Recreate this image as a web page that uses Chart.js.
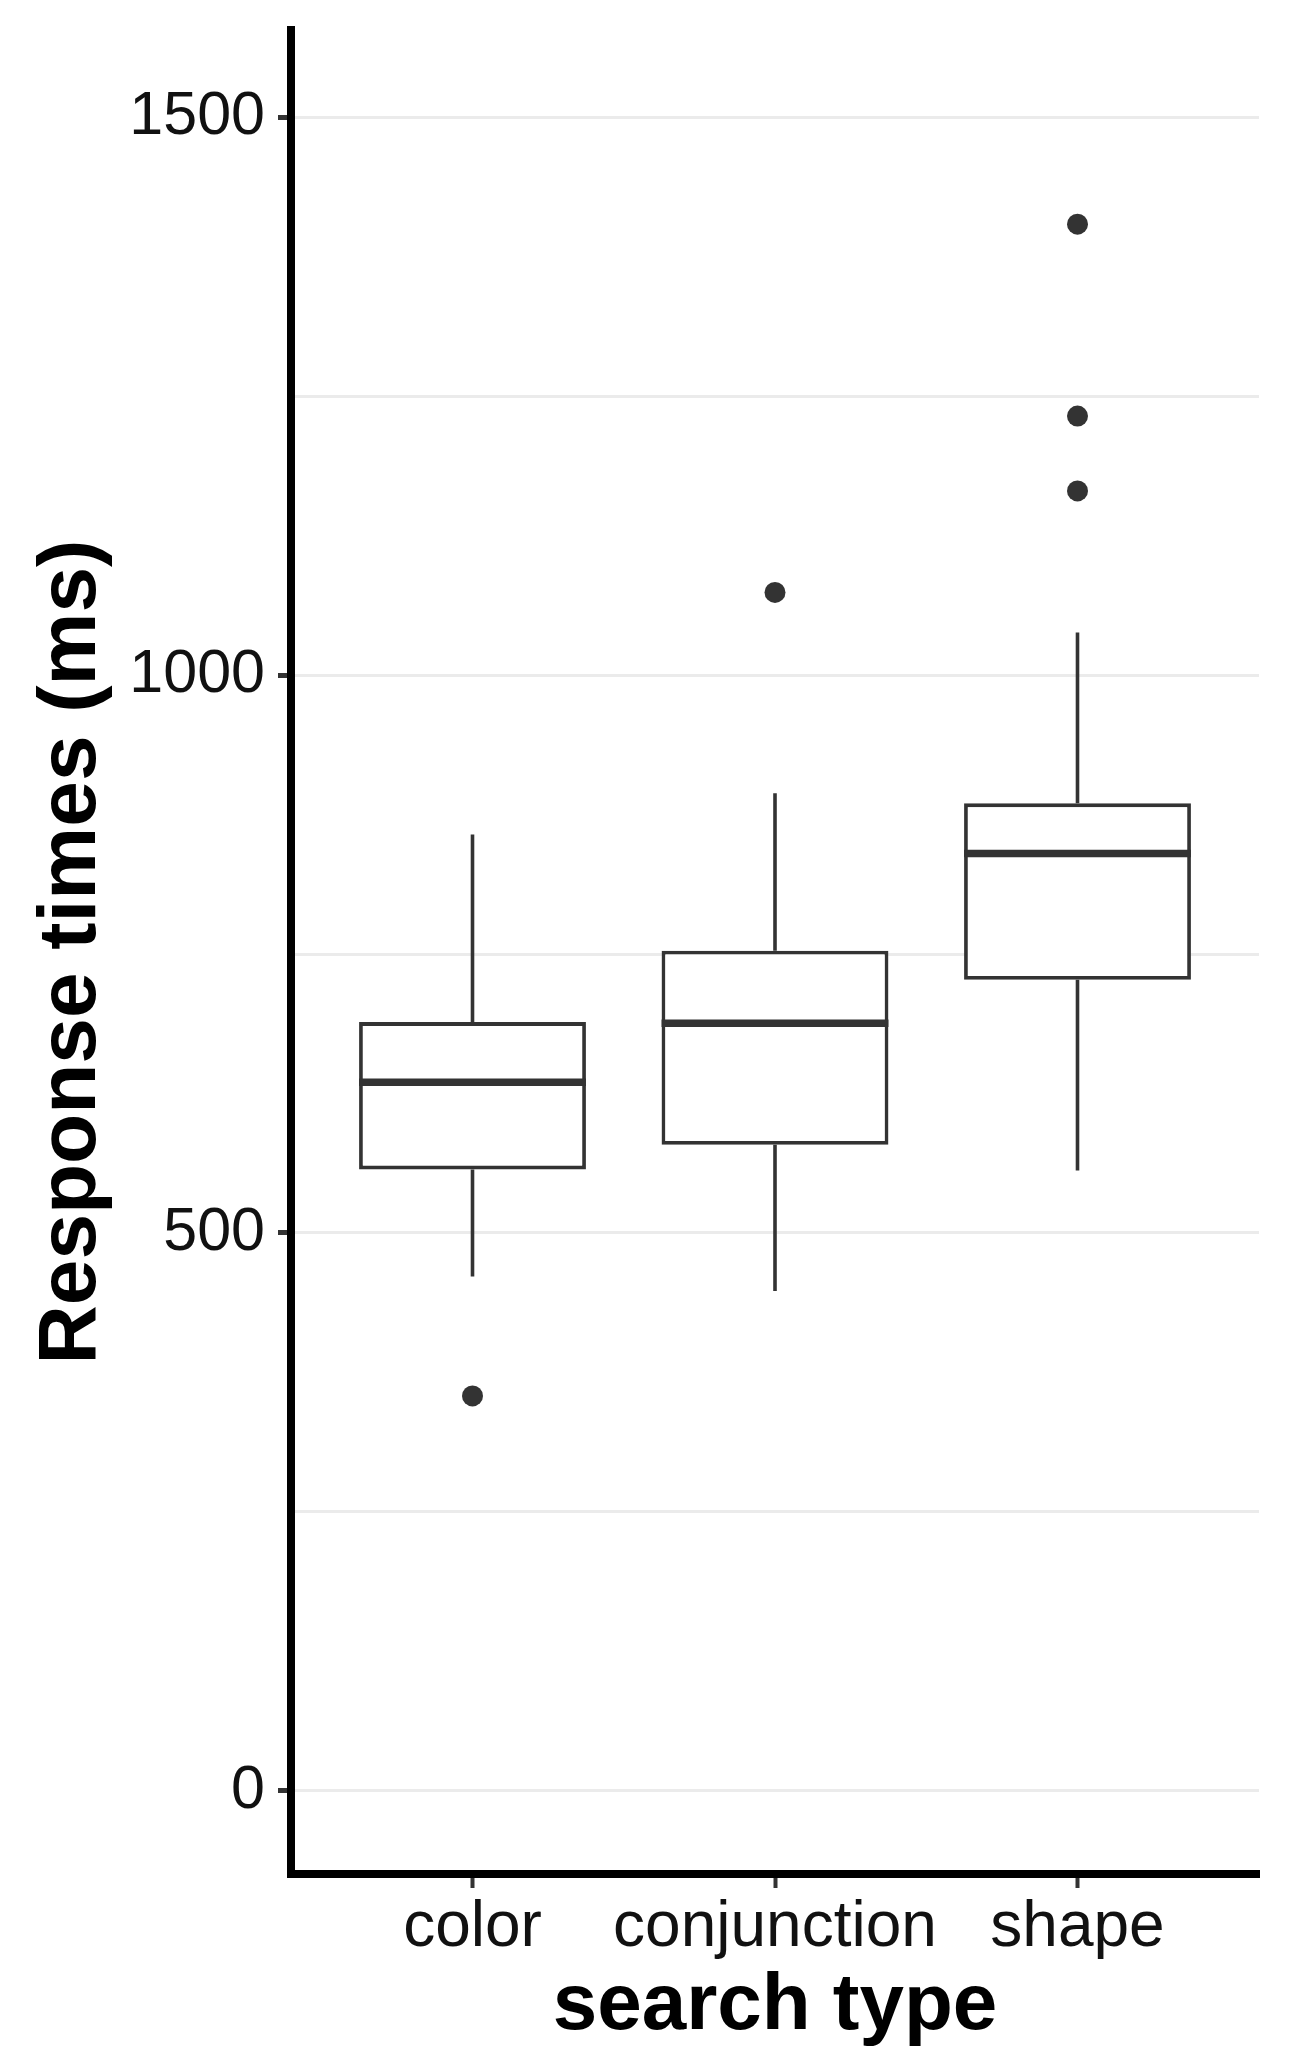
<!DOCTYPE html>
<html>
<head>
<meta charset="utf-8">
<script src="https://cdn.jsdelivr.net/npm/chart.js@4.4.1/dist/chart.umd.min.js"></script>
<style>
  body { margin: 0; background: #fff; }
  #wrap { width: 1297px; height: 2065px; }
</style>
</head>
<body>
<div id="wrap"><canvas id="myChart" width="1297" height="2065"></canvas></div>
<script>
// boxplot summary per search type
const categories   = ["color", "conjunction", "shape"];
const lowerWhisker = [461, 448, 556];
const q1           = [557, 579, 727];
const median       = [635, 688, 840];
const q3           = [689, 753, 885];
const upperWhisker = [857, 894, 1038];
const outliers     = [[354], [1074], [1404, 1232, 1165]];

const yTicks = [0, 250, 500, 750, 1000, 1250, 1500];   // gridlines, labels only every 500

const ink = "#333333";

Chart.defaults.font.family = "'Liberation Sans', Arial, sans-serif";
Chart.defaults.color = "#111111";

// whiskers + median lines on top of the floating bars
const boxWhiskers = {
  id: "boxWhiskers",
  afterDatasetsDraw(chart) {
    const {ctx, scales: {x, y}} = chart;
    const bars = chart.getDatasetMeta(0).data;
    ctx.save();
    ctx.strokeStyle = ink;
    ctx.lineCap = "butt";
    categories.forEach((c, i) => {
      const cx = x.getPixelForValue(i + 1);
      ctx.lineWidth = 3.6;
      ctx.beginPath();
      ctx.moveTo(cx, y.getPixelForValue(upperWhisker[i]));
      ctx.lineTo(cx, y.getPixelForValue(q3[i]));
      ctx.moveTo(cx, y.getPixelForValue(q1[i]));
      ctx.lineTo(cx, y.getPixelForValue(lowerWhisker[i]));
      ctx.stroke();

      const half = bars[i].width / 2;
      const my = y.getPixelForValue(median[i]);
      ctx.lineWidth = 7.5;
      ctx.beginPath();
      ctx.moveTo(cx - half, my);
      ctx.lineTo(cx + half, my);
      ctx.stroke();
    });
    ctx.restore();
  }
};

const boxData = categories.map((c, i) => ({x: i + 1, y: [q1[i], q3[i]]}));
const outlierData = [];
outliers.forEach((vals, i) => vals.forEach(v => outlierData.push({x: i + 1, y: v})));

let ctx = document.getElementById("myChart").getContext("2d");

let boxChart = new Chart(ctx, {
  type: "bar",
  data: {
    datasets: [{
      type: "bar",
      data: boxData,
      backgroundColor: "#ffffff",
      borderColor: ink,
      borderWidth: 3.8,
      borderSkipped: false,
      categoryPercentage: 1,
      barPercentage: 0.75
    }, {
      type: "scatter",
      data: outlierData,
      pointRadius: 10.5,
      pointBackgroundColor: ink,
      pointBorderWidth: 0
    }]
  },
  options: {
    responsive: false,
    animation: false,
    events: [],
    layout: { padding: { top: 30, right: 38, left: 0, bottom: 0 } },
    plugins: { legend: { display: false }, tooltip: { enabled: false } },
    scales: {
      x: {
        type: "linear",
        min: 0.4,
        max: 3.6,
        offset: false,
        afterBuildTicks: (scale) => { scale.ticks = categories.map((c, i) => ({value: i + 1})); },
        afterFit: (scale) => {
          scale.height = 191;
          scale.paddingLeft = 0; scale.paddingRight = 0;
        },
        ticks: {
          autoSkip: false,
          maxRotation: 0,
          padding: 2,
          color: "#111111",
          font: { size: 64 },
          callback: (v) => categories[v - 1] || ""
        },
        grid: {
          offset: false,
          drawOnChartArea: false,
          drawTicks: true,
          tickLength: 14,
          tickWidth: 4,
          tickColor: ink
        },
        border: { display: true, color: "#000000", width: 8 },
        title: {
          display: true,
          text: "search type",
          color: "#000000",
          font: { size: 80, weight: "bold" },
          padding: { top: 0, bottom: 10 }
        }
      },
      y: {
        min: -74.4,
        max: 1578,
        afterBuildTicks: (scale) => { scale.ticks = yTicks.map(v => ({value: v})); },
        afterFit: (scale) => {
          scale.width = 291;
          scale.paddingTop = 0; scale.paddingBottom = 0;
        },
        ticks: {
          autoSkip: false,
          padding: 13,
          color: "#111111",
          font: { size: 61 },
          callback: (v) => (v % 500 === 0 ? String(v) : "")
        },
        grid: {
          color: "#ebebeb",
          lineWidth: 3,
          drawTicks: true,
          tickLength: 13,
          tickWidth: 5,
          tickColor: (c) => (c.tick && c.tick.value % 500 === 0 ? ink : "rgba(0,0,0,0)")
        },
        border: { display: true, color: "#000000", width: 8 },
        title: {
          display: true,
          text: "Response times (ms)",
          color: "#000000",
          font: { size: 82, weight: "bold" },
          padding: { top: 23, bottom: 0 }
        }
      }
    }
  },
  plugins: [boxWhiskers]
});
</script>
</body>
</html>
